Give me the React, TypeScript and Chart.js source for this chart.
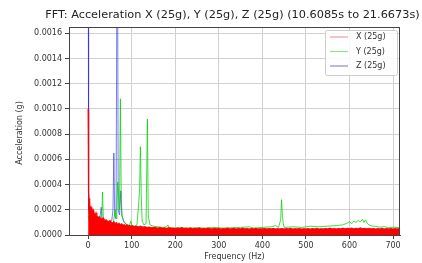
import React, { useEffect, useRef } from "react";
import { Chart, registerables } from "chart.js";

Chart.register(...registerables);

const titleText = "FFT: Acceleration X (25g), Y (25g), Z (25g) (10.6085s to 21.6673s)";
const xAxisLabel = "Frequency (Hz)";
const yAxisLabel = "Acceleration (g)";
const seriesLabels = ["X (25g)", "Y (25g)", "Z (25g)"];
const xTicks = [0, 100, 200, 300, 400, 500, 600, 700];
const yTicks = [0, 0.0002, 0.0004, 0.0006, 0.0008, 0.001, 0.0012, 0.0014, 0.0016];

// X series (values in micro-g)
const xFreq = [
  0, 1, 2, 3, 4, 6, 8, 10, 12, 14, 16, 18, 20, 23, 26, 29, 32, 35, 38, 41, 44, 47, 50, 53, 56, 59, 62, 65, 68, 71,
  74, 77, 80, 83, 86, 89, 92, 95, 98, 101, 105, 110, 115, 120, 125, 130, 135, 140, 145, 150,
  155, 160, 165, 170, 175, 180, 185, 190, 195, 200, 205, 210, 215, 220, 225, 230, 235, 240, 245, 250,
  255, 260, 265, 270, 275, 280, 285, 290, 295, 300, 305, 310, 315, 320, 325, 330, 335, 340, 345, 350,
  355, 360, 365, 370, 375, 380, 385, 390, 395, 400, 405, 410, 415, 420, 425, 430, 435, 440, 445, 450,
  455, 460, 465, 470, 475, 480, 485, 490, 495, 500, 505, 510, 515, 520, 525, 530, 535, 540, 545, 550,
  555, 560, 565, 570, 575, 580, 585, 590, 595, 600, 605, 610, 615, 620, 625, 630, 635, 640, 645, 650,
  655, 660, 665, 670, 675, 680, 685, 690, 695, 700, 705, 710, 715,
];
const xAmp = [
  1000, 330, 290, 260, 240, 210, 220, 190, 200, 170, 160, 175, 150, 140, 145, 130, 125, 135, 115, 120, 110, 105, 115, 100, 95, 105, 90, 98, 85, 92,
  80, 88, 78, 82, 72, 80, 70, 76, 68, 74, 65, 70, 62, 68, 60, 65, 58, 62, 56, 60,
  58, 53, 60, 52, 57, 50, 58, 53, 55, 49, 54, 51, 57, 48, 53, 50, 56, 47, 52, 49,
  55, 46, 51, 48, 54, 50, 46, 53, 48, 52, 45, 51, 47, 53, 46, 49, 52, 45, 51, 47,
  53, 46, 50, 44, 51, 47, 52, 45, 49, 46, 51, 44, 50, 47, 52, 45, 49, 46, 51, 44,
  50, 46, 52, 45, 49, 46, 51, 44, 49, 46, 50, 45, 51, 47, 52, 45, 49, 46, 51, 47,
  53, 46, 50, 45, 51, 47, 53, 46, 52, 48, 54, 47, 53, 48, 55, 49, 53, 47, 52, 46,
  51, 45, 50, 46, 52, 45, 50, 46, 51, 45, 50, 46, 51,
];

// Y series (values in micro-g)
const yFreq = [
  0, 5, 10, 20, 28, 31, 33, 35, 38, 45, 52, 58, 62, 64, 66, 68, 70, 72, 74, 76, 78, 82, 88, 95, 98, 100, 106, 112,
  116, 118, 120, 122, 124, 128, 133, 136, 138, 142, 150, 160, 170, 180, 183, 186, 195, 210, 230, 250, 270, 290,
  310, 330, 350, 370, 380, 400, 420, 430, 437, 442, 444, 446, 448, 450, 470, 490, 510, 530, 550, 570, 585, 595,
  600, 605, 610, 615, 620, 625, 630, 633, 637, 640, 645, 650, 660, 670, 680, 690, 700, 715,
];
const yAmp = [
  150, 90, 70, 80, 90, 120, 340, 110, 80, 70, 80, 100, 200, 130, 250, 420, 300, 200, 1080, 300, 150, 110, 80, 75, 110, 80, 70, 80,
  250, 350, 700, 300, 110, 80, 90, 920, 150, 80, 70, 65, 60, 65, 80, 60, 55, 60, 55, 58, 55, 60,
  55, 58, 60, 65, 55, 60, 65, 75, 60, 120, 280, 150, 90, 60, 65, 60, 70, 65, 70, 75, 80, 95,
  105, 90, 110, 100, 115, 105, 125, 100, 120, 95, 80, 72, 68, 62, 66, 58, 62, 58,
];

// Z series (values in micro-g)
const zFreq = [
  0, 1, 3, 8, 15, 22, 27, 30, 32, 36, 42, 48, 54, 57, 59, 61, 64, 67, 69, 72, 75, 77, 82, 90, 100, 110, 120, 130,
  150, 200, 300, 400, 500, 600, 715,
];
const zAmp = [
  3000, 200, 150, 120, 110, 100, 140, 220, 130, 100, 90, 95, 110, 200, 650, 150, 130, 3000, 200, 160, 350, 160, 100, 80, 70, 65, 70, 60,
  55, 50, 48, 50, 48, 50, 48,
];

const toPoints = (f: number[], a: number[]) => f.map((v, i) => ({ x: v, y: a[i] * 1e-6 }));

const FONT = "DejaVu Sans";

const decorPlugin = {
  id: "decor",
  afterDraw(chart: any) {
    const { ctx, chartArea } = chart;
    const { left, right, top, bottom } = chartArea;
    ctx.save();
    // frame
    ctx.strokeStyle = "#444";
    ctx.lineWidth = 1;
    ctx.strokeRect(left + 0.5, top + 0.5, right - left - 1, bottom - top);
    // title
    ctx.fillStyle = "#222";
    ctx.font = `11.3px ${FONT}`;
    ctx.textAlign = "center";
    ctx.textBaseline = "middle";
    ctx.fillText(titleText, (left + right) / 2 - 2, 15);
    // axis labels
    ctx.font = `8px ${FONT}`;
    ctx.fillStyle = "#333";
    ctx.fillText(xAxisLabel, (left + right) / 2, 257);
    ctx.save();
    ctx.translate(20, (top + bottom) / 2 + 2);
    ctx.rotate(-Math.PI / 2);
    ctx.fillText(yAxisLabel, 0, 0);
    ctx.restore();
    // legend
    const bw = 72, bh = 45;
    const bx = right - 3 - bw, by = top + 3;
    ctx.beginPath();
    ctx.roundRect(bx + 0.5, by + 0.5, bw, bh, 2);
    ctx.fillStyle = "rgba(255,255,255,0.85)";
    ctx.fill();
    ctx.strokeStyle = "#cccccc";
    ctx.stroke();
    const legendColors = ["rgba(230,90,90,0.6)", "rgba(60,210,60,0.6)", "rgba(60,60,150,0.6)"];
    ctx.textAlign = "left";
    ctx.font = `8px ${FONT}`;
    seriesLabels.forEach((lab, i) => {
      const yy = by + 7 + i * 14.5;
      ctx.strokeStyle = legendColors[i];
      ctx.lineWidth = 1.2;
      ctx.beginPath();
      ctx.moveTo(bx + 5, yy);
      ctx.lineTo(bx + 23, yy);
      ctx.stroke();
      ctx.fillStyle = "#333";
      ctx.fillText(lab, bx + 31, yy);
    });
    ctx.restore();
  },
};

export default function App() {
  const ref = useRef<HTMLCanvasElement>(null);
  useEffect(() => {
    if (!ref.current) return;
    const chart = new Chart(ref.current, {
      type: "line",
      data: {
        datasets: [
          {
            label: seriesLabels[0],
            data: toPoints(xFreq, xAmp),
            borderColor: "rgba(255,0,0,0.9)",
            backgroundColor: "rgba(255,0,0,1)",
            fill: "origin",
            borderWidth: 1.3,
            pointRadius: 0,
          },
          {
            label: seriesLabels[1],
            data: toPoints(yFreq, yAmp),
            borderColor: "rgba(0,210,0,0.75)",
            borderWidth: 1,
            pointRadius: 0,
            fill: false,
          },
          {
            label: seriesLabels[2],
            data: toPoints(zFreq, zAmp),
            borderColor: "rgba(40,40,230,0.6)",
            borderWidth: 1,
            pointRadius: 0,
            fill: false,
          },
        ],
      },
      options: {
        animation: false,
        responsive: false,
        maintainAspectRatio: false,
        layout: { padding: { top: 27, right: 22, left: 0, bottom: 0 } },
        plugins: { legend: { display: false }, title: { display: false }, tooltip: { enabled: false } },
        elements: { line: { tension: 0 } },
        scales: {
          x: {
            type: "linear",
            min: -44,
            max: 716,
            afterBuildTicks: (s: any) => {
              s.ticks = xTicks.map((v) => ({ value: v }));
            },
            afterFit: (s: any) => {
              s.height = 28;
            },
            ticks: {
              font: { family: FONT, size: 8 },
              color: "#333",
              padding: 2,
              maxRotation: 0,
              callback: (v: any) => String(v),
            },
            grid: { color: "#d0d0d0", tickColor: "#444", tickLength: 4, drawTicks: true },
            border: { display: true, color: "#444" },
          },
          y: {
            type: "linear",
            min: 0,
            max: 0.00165,
            afterBuildTicks: (s: any) => {
              s.ticks = yTicks.map((v) => ({ value: v }));
            },
            afterFit: (s: any) => {
              s.width = 69;
            },
            ticks: {
              font: { family: FONT, size: 8 },
              color: "#333",
              padding: 3,
              callback: (v: any) => Number(v).toFixed(4),
            },
            grid: { color: "#d0d0d0", tickColor: "#444", tickLength: 4, drawTicks: true },
            border: { display: true, color: "#444" },
          },
        },
      },
      plugins: [decorPlugin],
    });
    return () => chart.destroy();
  }, []);
  return (
    <div style={{ position: "fixed", left: 0, top: 0, width: 422, height: 263, background: "#fff" }}>
      <canvas ref={ref} width={422} height={263} style={{ width: 422, height: 263, display: "block" }} />
    </div>
  );
}
